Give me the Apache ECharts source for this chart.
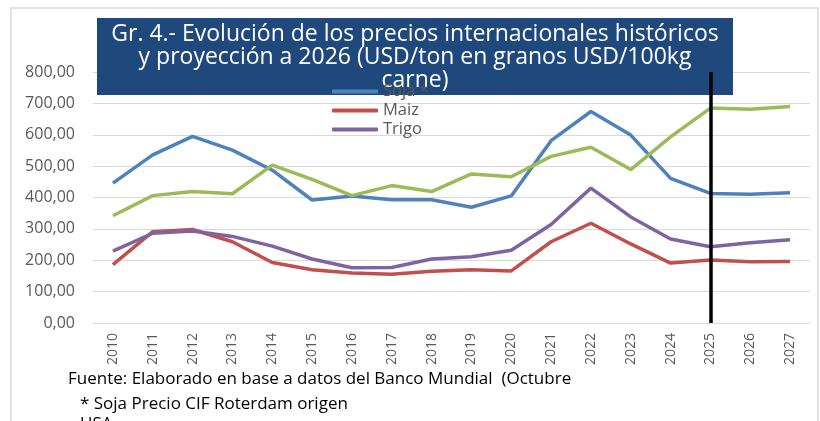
<!DOCTYPE html>
<html>
<head>
<meta charset="utf-8">
<script src="https://cdn.jsdelivr.net/npm/echarts@6/dist/echarts.min.js"></script>
<style>
  html, body { margin: 0; padding: 0; background: #fff; }
  #main { width: 820px; height: 421px; }
</style>
</head>
<body>
<div id="main"></div>
<script>
// años
var years = ["2010", "2011", "2012", "2013", "2014", "2015", "2016", "2017", "2018",
  "2019", "2020", "2021", "2022", "2023", "2024", "2025", "2026", "2027"];
// precios
var soja = [446, 536, 595, 551, 487, 392, 405, 393, 393, 369, 405, 581, 674, 599, 461, 413, 410, 415];
var maiz = [186, 291, 298, 259, 193, 170, 159, 155, 165, 170, 166, 259, 318, 252, 191, 201, 195, 196];
var trigo = [229, 286, 293, 276, 245, 204, 176, 177, 204, 211, 232, 314, 430, 338, 268, 243, 256, 265];
var carne = [342, 406, 419, 412, 503, 458, 406, 438, 419, 475, 466, 531, 560, 489, 593, 685, 681, 690];
var corte = "2025"; // linea vertical de proyeccion

var chart = echarts.init(document.getElementById("main"));

var fontFam = "'Open Sans', 'Noto Sans', sans-serif";

var option = {
  animation: false,
  backgroundColor: "#fff",
  grid: {
    left: 93,
    right: 10,
    top: 72,
    bottom: 98,
  },
  legend: {
    orient: "vertical",
    left: 327,
    top: 78,
    z: 10,
    icon: "roundRect",
    itemWidth: 46,
    itemHeight: 4,
    itemGap: 2,
    textStyle: { color: "#595959", fontSize: 16.5, fontFamily: fontFam },
    data: ["Soja *", "Maiz", "Trigo"],
  },
  xAxis: {
    type: "category",
    boundaryGap: true,
    data: years,
    axisLine: { lineStyle: { color: "#d9d9d9" } },
    axisTick: { show: false },
    axisLabel: {
      rotate: 90,
      color: "#595959",
      fontSize: 14,
      fontFamily: fontFam,
      margin: 10,
    },
  },
  yAxis: {
    type: "value",
    min: 0,
    max: 800,
    interval: 100,
    axisLine: { show: false },
    axisTick: { show: false },
    splitLine: { lineStyle: { color: "#d9d9d9", width: 1 } },
    axisLabel: {
      color: "#595959",
      fontSize: 16,
      fontFamily: fontFam,
      margin: 18,
      formatter: function (v) {
        return v.toFixed(2).replace(".", ",");
      },
    },
  },
  series: [
    {
      name: "Soja *",
      type: "line",
      data: soja,
      symbol: "none",
      lineStyle: { width: 3.5, color: "#4F81BD" },
      itemStyle: { color: "#4F81BD" },
    },
    {
      name: "Maiz",
      type: "line",
      data: maiz,
      symbol: "none",
      lineStyle: { width: 3.5, color: "#C0504D" },
      itemStyle: { color: "#C0504D" },
    },
    {
      name: "Trigo",
      type: "line",
      data: trigo,
      symbol: "none",
      lineStyle: { width: 3.5, color: "#8064A2" },
      itemStyle: { color: "#8064A2" },
    },
    {
      name: "Carne",
      type: "line",
      data: carne,
      symbol: "none",
      lineStyle: { width: 3.5, color: "#9BBB59" },
      itemStyle: { color: "#9BBB59" },
      markLine: {
        silent: true,
        symbol: "none",
        label: { show: false },
        lineStyle: { color: "#000", width: 3.5, type: "solid" },
        data: [{ xAxis: corte }],
      },
    },
  ],
  graphic: [
    // borde del area del grafico
    {
      type: "rect",
      z: -10,
      shape: { x: 11, y: 8, width: 807, height: 430 },
      style: { fill: "none", stroke: "#d9d9d9", lineWidth: 1.5 },
    },
    // recuadro del titulo
    {
      type: "rect",
      z: 1,
      shape: { x: 97, y: 18, width: 636, height: 77 },
      style: { fill: "#1F497D" },
    },
    {
      type: "text",
      z: 2,
      x: 415,
      y: 23,
      style: {
        text: "Gr. 4.- Evolución de los precios internacionales históricos\ny proyección a 2026 (USD/ton en granos USD/100kg\ncarne)",
        fill: "#fff",
        fontSize: 23,
        lineHeight: 23,
        fontFamily: fontFam,
        align: "center",
      },
    },
    {
      type: "text",
      x: 68,
      y: 371,
      style: {
        text: "Fuente: Elaborado en base a datos del Banco Mundial  (Octubre",
        fill: "#000",
        fontSize: 17,
        fontFamily: fontFam,
      },
    },
    {
      type: "text",
      x: 80,
      y: 396,
      style: {
        text: "* Soja Precio CIF Roterdam origen",
        fill: "#000",
        fontSize: 17,
        fontFamily: fontFam,
      },
    },
    {
      type: "text",
      x: 80,
      y: 416,
      style: {
        text: "USA",
        fill: "#000",
        fontSize: 17,
        fontFamily: fontFam,
      },
    },
  ],
};

chart.setOption(option);
</script>
</body>
</html>
